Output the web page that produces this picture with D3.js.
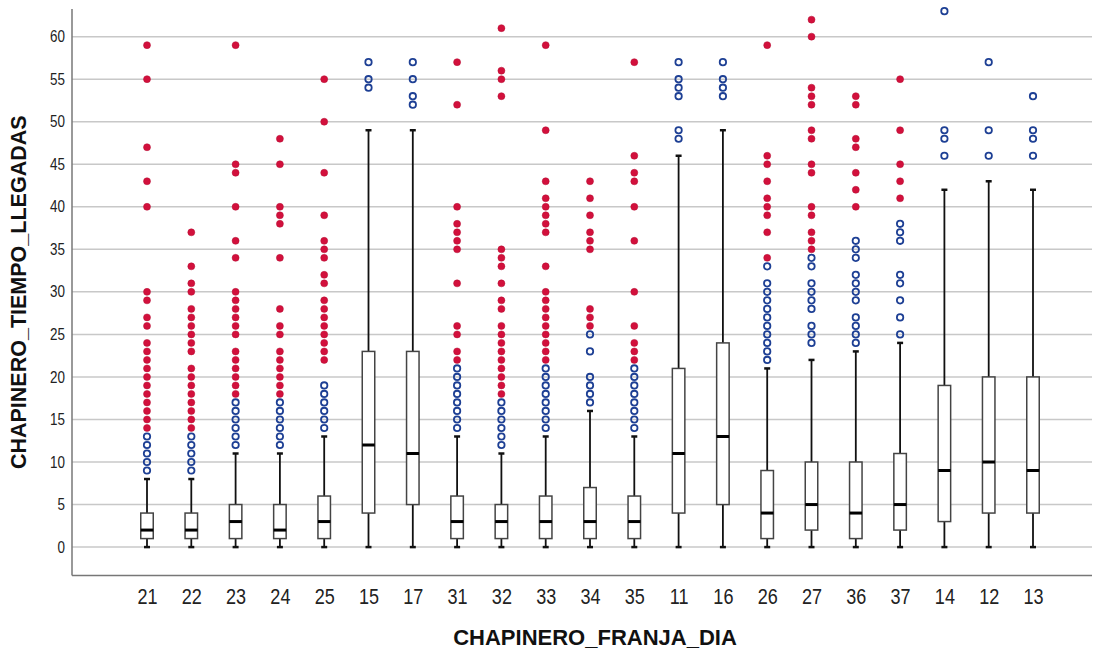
<!DOCTYPE html>
<html lang="en">
<head>
<meta charset="utf-8">
<title>Boxplot CHAPINERO</title>
<script src="https://d3js.org/d3.v7.min.js"></script>
<style>
  body { margin: 0; background: #fff; }
  text { font-family: "Liberation Sans", Arial, sans-serif; fill: #222; }
  text.title { font-weight: bold; fill: #111; }
  .tick line, path.domain { display: none; }
</style>
</head>
<body>
<div id="chart"></div>
<script>
// categories (CHAPINERO_FRANJA_DIA), in drawing order
const cats = ["21","22","23","24","25","15","17","31","32","33","34","35","11","16","26","27","36","37","14","12","13"];

// box statistics per category
const q1    = [1,1,1,1,1,4,5,1,1,1,1,1,4,5,1,2,1,2,3,4,4];
const med   = [2,2,3,2,3,12,11,3,3,3,3,3,11,13,4,5,4,5,9,10,9];
const q3    = [4,4,5,5,6,23,23,6,5,6,7,6,21,24,9,10,10,11,19,20,20];
const whLo  = [0,0,0,0,0,0,0,0,0,0,0,0,0,0,0,0,0,0,0,0,0];
const whHi  = [8,8,11,11,13,49,49,13,11,13,16,13,46,49,21,22,23,24,42,43,42];

// mild outliers (open blue circles)
const mild = [
  [9,10,11,12,13],
  [9,10,11,12,13],
  [12,13,14,15,16,17],
  [12,13,14,15,16,17],
  [14,15,16,17,18,19],
  [54,55,57],
  [52,53,55,57],
  [14,15,16,17,18,19,20,21],
  [12,13,14,15,16,17],
  [14,15,16,17,18,19,20,21],
  [17,18,19,20,23,25],
  [14,15,16,17,18,19,20,21],
  [48,49,53,54,55,57],
  [53,54,55,57],
  [22,23,24,25,26,27,28,29,30,31,33],
  [24,25,26,28,29,30,31,33,34],
  [24,25,26,27,29,30,31,32,34,35,36],
  [25,27,29,31,32,36,37,38],
  [46,48,49,63],
  [46,49,57],
  [46,48,49,53]
];

// extreme outliers (filled red dots)
const extreme = [
  [14,15,16,17,18,19,20,21,22,23,24,26,27,29,30,40,43,47,55,59],
  [14,15,16,17,18,19,20,21,23,24,25,26,27,28,30,31,33,37],
  [18,19,20,21,22,23,25,26,27,28,29,30,34,36,40,44,45,59],
  [18,19,20,21,22,23,25,26,28,34,38,39,40,45,48],
  [22,23,24,25,26,27,28,29,31,32,34,35,36,39,44,50,55],
  [],
  [],
  [22,23,25,26,31,35,36,37,38,40,52,57],
  [18,19,20,21,22,23,24,25,26,28,29,31,33,34,35,53,55,56,61],
  [22,23,24,25,26,27,28,29,30,33,37,38,39,40,41,43,49,59],
  [26,27,28,35,36,37,39,41,43],
  [22,23,24,26,30,36,40,43,44,46,57],
  [],
  [],
  [34,37,39,40,41,43,45,46,59],
  [35,36,37,39,40,44,45,48,49,52,53,54,60,62],
  [40,42,44,47,48,52,53],
  [41,43,45,49,55],
  [],
  [],
  []
];

const yTicks = d3.range(0, 61, 5);

const W = 1101, H = 651;
const plot = { left: 72, right: 1092, top: 9, bottom: 575.5 };

const svg = d3.select("#chart").append("svg")
  .attr("width", W).attr("height", H);

const x = d3.scalePoint().domain(cats).range([147, 1033]);
const y = d3.scaleLinear().domain([-3.34, 63.25]).range([plot.bottom, plot.top]);

const rows = cats.map((c, i) => ({
  cat: c, q1: q1[i], med: med[i], q3: q3[i], lo: whLo[i], hi: whHi[i],
  mild: mild[i], extreme: extreme[i]
}));

// grid
svg.append("g").selectAll("line")
  .data(yTicks)
  .join("line")
  .attr("x1", plot.left).attr("x2", plot.right)
  .attr("y1", d => y(d)).attr("y2", d => y(d))
  .attr("stroke", "#c8c8c8").attr("stroke-width", 1.5);

// axes frame
svg.append("line")
  .attr("x1", plot.left).attr("x2", plot.left)
  .attr("y1", plot.top).attr("y2", plot.bottom)
  .attr("stroke", "#777").attr("stroke-width", 1.5);
svg.append("line")
  .attr("x1", plot.left).attr("x2", plot.right)
  .attr("y1", plot.bottom).attr("y2", plot.bottom)
  .attr("stroke", "#777").attr("stroke-width", 1.5);

// y axis labels (narrowed to match the condensed look)
const yAxis = svg.append("g")
  .attr("transform", `translate(${plot.left},0)`)
  .call(d3.axisLeft(y).tickValues(yTicks).tickSize(0).tickPadding(0));
yAxis.selectAll("text")
  .style("font-size", "16px")
  .attr("fill", "#333")
  .attr("x", -7 / 0.84)
  .attr("transform", "scale(0.84,1)");

// x axis labels
const xAxis = svg.append("g")
  .attr("transform", `translate(0,${plot.bottom})`)
  .call(d3.axisBottom(x).tickSize(0));
xAxis.selectAll("text")
  .style("font-size", "22px")
  .attr("fill", "#333")
  .attr("dy", null)
  .attr("y", 28.5)
  .attr("transform", "scale(0.82,1)");

// titles
svg.append("text").attr("class", "title")
  .style("font-size", "22px")
  .attr("x", 595).attr("y", 645)
  .attr("text-anchor", "middle")
  .text("CHAPINERO_FRANJA_DIA");
svg.append("text").attr("class", "title")
  .style("font-size", "21.5px")
  .attr("transform", `translate(26,${(plot.top + plot.bottom) / 2}) rotate(-90)`)
  .attr("text-anchor", "middle")
  .text("CHAPINERO_TIEMPO_LLEGADAS");

const boxW = 12.5, capW = 6;

const g = svg.append("g").selectAll("g.box")
  .data(rows)
  .join("g")
  .attr("class", "box")
  .attr("transform", d => `translate(${x(d.cat)},0)`);

// whiskers
g.append("line")
  .attr("x1", 0).attr("x2", 0)
  .attr("y1", d => y(d.q3)).attr("y2", d => y(d.hi))
  .attr("stroke", "#111").attr("stroke-width", 1.8);
g.append("line")
  .attr("x1", 0).attr("x2", 0)
  .attr("y1", d => y(d.q1)).attr("y2", d => y(d.lo))
  .attr("stroke", "#111").attr("stroke-width", 1.8);
g.append("line")
  .attr("x1", -capW / 2).attr("x2", capW / 2)
  .attr("y1", d => y(d.hi)).attr("y2", d => y(d.hi))
  .attr("stroke", "#111").attr("stroke-width", 2.5);
g.append("line")
  .attr("x1", -capW / 2).attr("x2", capW / 2)
  .attr("y1", d => y(d.lo)).attr("y2", d => y(d.lo))
  .attr("stroke", "#111").attr("stroke-width", 2.5);

// box
g.append("rect")
  .attr("x", -boxW / 2).attr("width", boxW)
  .attr("y", d => y(d.q3)).attr("height", d => y(d.q1) - y(d.q3))
  .attr("fill", "#fff").attr("stroke", "#444").attr("stroke-width", 1.5);

// median
g.append("line")
  .attr("x1", -boxW / 2).attr("x2", boxW / 2)
  .attr("y1", d => y(d.med)).attr("y2", d => y(d.med))
  .attr("stroke", "#000").attr("stroke-width", 3);

// mild outliers
g.selectAll("circle.mild")
  .data(d => d.mild)
  .join("circle")
  .attr("class", "mild")
  .attr("cx", 0).attr("cy", v => y(v)).attr("r", 3.2)
  .attr("fill", "none").attr("stroke", "#1d3f94").attr("stroke-width", 1.8);

// extreme outliers
g.selectAll("circle.extreme")
  .data(d => d.extreme)
  .join("circle")
  .attr("class", "extreme")
  .attr("cx", 0).attr("cy", v => y(v)).attr("r", 3.5)
  .attr("fill", "#d2103c").attr("stroke", "#b50c33").attr("stroke-width", 0.5);
</script>
</body>
</html>
